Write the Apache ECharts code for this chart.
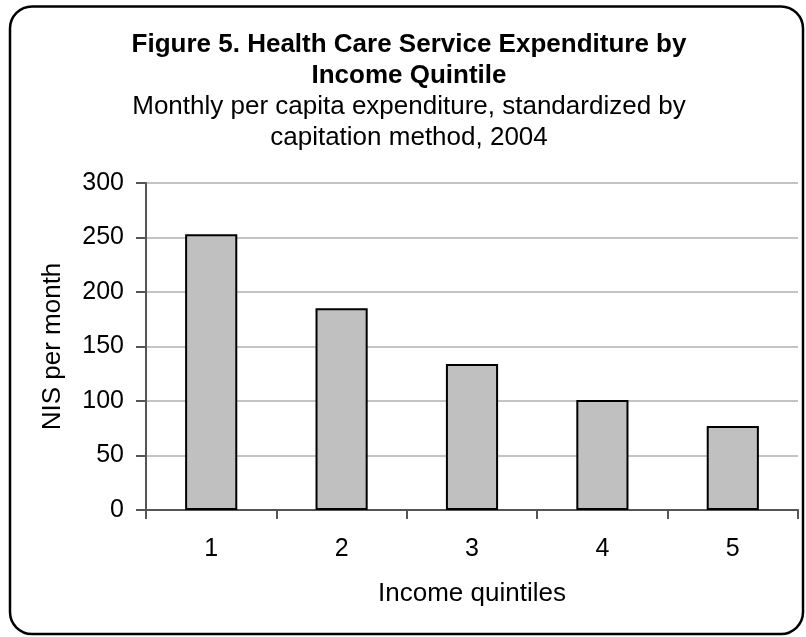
<!DOCTYPE html>
<html>
<head>
<meta charset="utf-8">
<script src="https://cdn.jsdelivr.net/npm/echarts@6/dist/echarts.min.js"></script>
<style>
  html, body { margin: 0; padding: 0; background: #fff; }
  #chart { width: 806px; height: 637px; }
</style>
</head>
<body>
<div id="chart"></div>
<script>
// Income quintiles and monthly per capita expenditure (NIS)
const quintiles = ['1', '2', '3', '4', '5'];
const expenditure = [253, 185, 134, 101, 77];
const yTicks = { min: 0, max: 300, interval: 50 };

const FONT = '"Liberation Sans", Arial, sans-serif';
const AXIS_GRAY = '#555555';

const chart = echarts.init(document.getElementById('chart'), null, { renderer: 'canvas' });

chart.setOption({
  animation: false,
  backgroundColor: '#ffffff',
  textStyle: { fontFamily: FONT, color: '#000' },
  title: {
    left: 404,
    top: 24.5,
    textAlign: 'center',
    text: 'Figure 5. Health Care Service Expenditure by\nIncome Quintile',
    textStyle: { fontFamily: FONT, fontSize: 26, fontWeight: 'bold', color: '#000', lineHeight: 31 },
    subtext: 'Monthly per capita expenditure, standardized by\ncapitation method, 2004',
    subtextStyle: { fontFamily: FONT, fontSize: 26, color: '#000', lineHeight: 31 },
    itemGap: 0
  },
  graphic: [{
    type: 'rect',
    silent: true,
    shape: { x: 10, y: 6.5, width: 793, height: 627.5, r: 22 },
    style: { fill: 'none', stroke: '#000', lineWidth: 2.5 }
  }],
  grid: { left: 146, right: 8, top: 183, bottom: 127, containLabel: false },
  xAxis: {
    type: 'category',
    data: quintiles,
    boundaryGap: true,
    name: 'Income quintiles',
    nameLocation: 'middle',
    nameGap: 71,
    nameTextStyle: { fontFamily: FONT, fontSize: 26, color: '#000' },
    axisLine: { lineStyle: { color: AXIS_GRAY, width: 2 } },
    axisTick: { show: true, length: 9, lineStyle: { color: AXIS_GRAY, width: 2 } },
    axisLabel: { fontFamily: FONT, fontSize: 25, color: '#000', margin: 27 },
    splitLine: { show: false }
  },
  yAxis: {
    type: 'value',
    min: yTicks.min,
    max: yTicks.max,
    interval: yTicks.interval,
    name: 'NIS per month',
    nameLocation: 'middle',
    nameRotate: 90,
    nameGap: 80,
    nameTextStyle: { fontFamily: FONT, fontSize: 26, color: '#000' },
    axisLine: { show: true, lineStyle: { color: AXIS_GRAY, width: 2 } },
    axisTick: { show: true, length: 10, lineStyle: { color: AXIS_GRAY, width: 2 } },
    axisLabel: { fontFamily: FONT, fontSize: 25, color: '#000', margin: 22 },
    splitLine: { show: true, lineStyle: { color: '#c4c4c4', width: 2 } }
  },
  series: [{
    type: 'bar',
    data: expenditure,
    barWidth: '40%',
    itemStyle: { color: '#c0c0c0', borderColor: '#000', borderWidth: 2 }
  }]
});
</script>
</body>
</html>
